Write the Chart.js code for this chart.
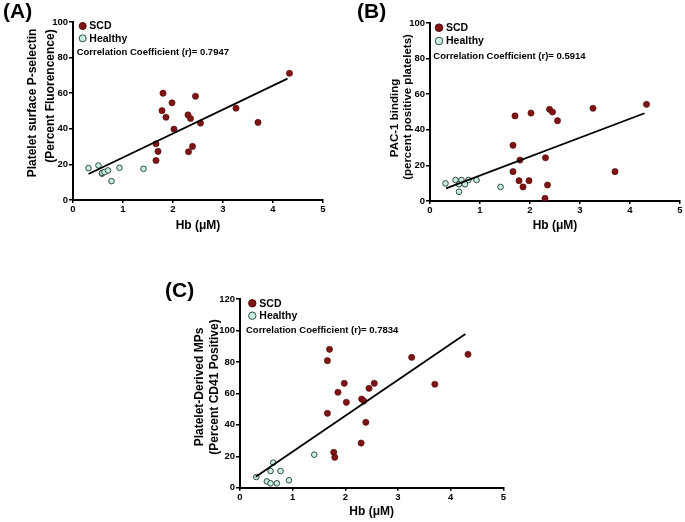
<!DOCTYPE html>
<html>
<head>
<meta charset="utf-8">
<script src="https://cdn.jsdelivr.net/npm/chart.js@4.4.1/dist/chart.umd.min.js"></script>
<style>
  html, body { margin: 0; padding: 0; background: #fff; }
  body { width: 685px; height: 522px; position: relative; overflow: hidden; }
  .panel { position: absolute; }
</style>
</head>
<body>
<div class="panel" id="pA" style="left:0px;top:0px;width:340px;height:240px;"><canvas id="cA"></canvas></div>
<div class="panel" id="pB" style="left:340px;top:0px;width:345px;height:240px;"><canvas id="cB"></canvas></div>
<div class="panel" id="pC" style="left:160px;top:260px;width:360px;height:262px;"><canvas id="cC"></canvas></div>
<script>
// ---------- data ----------
const hbSCD     = [1.66, 1.66, 1.70, 1.78, 1.80, 1.86, 1.98, 2.02, 2.30, 2.31, 2.35, 2.39, 2.45, 2.55, 3.26, 3.70, 4.33];
const hbHealthy = [0.31, 0.51, 0.58, 0.58, 0.63, 0.70, 0.77, 0.93, 1.41];

// (A) Platelet surface P-selectin
const pselSCD     = [31.6, 22.2, 27.3, 50.2, 60.0, 46.5, 54.6, 39.8, 47.8, 27.1, 45.8, 30.1, 58.3, 43.2, 51.6, 43.6, 71.2];
const pselHealthy = [17.9, 19.4, 14.8, 15.2, 15.7, 16.6, 10.6, 18.1, 17.5];
const fitAx = [0.31, 4.29];
const fitAy = [14.6, 68.2];

// (B) PAC-1 binding
const pacSCD     = [31.3, 16.5, 47.8, 11.4, 23.0, 7.9, 11.4, 49.4, 1.5, 24.3, 9.0, 51.5, 50.0, 45.1, 52.1, 16.5, 54.3];
const pacHealthy = [9.9, 11.8, 9.4, 5.2, 11.8, 9.4, 11.8, 11.8, 7.9];
const fitBx = [0.32, 4.29];
const fitBy = [7.1, 49.3];

// (C) Platelet-derived MPs
const pmpSCD     = [80.8, 47.3, 88.0, 22.5, 19.3, 60.7, 66.4, 54.3, 28.4, 56.4, 55.1, 41.6, 63.2, 66.4, 82.9, 65.8, 84.8];
const pmpHealthy = [6.8, 4.0, 10.6, 2.8, 15.9, 2.8, 10.6, 4.7, 21.0];
const fitCx = [0.30, 4.28];
const fitCy = [7.0, 97.7];

const xTicks   = [0, 1, 2, 3, 4, 5];
const yTicksAB = [0, 20, 40, 60, 80, 100];
const yTicksC  = [0, 20, 40, 60, 80, 100, 120];

const seriesNames = ['SCD', 'Healthy'];
const xTitle = 'Hb (\u03BCM)';

// ---------- styling ----------
const FONT = '"Liberation Sans", Arial, Helvetica, sans-serif';
const SCD_FILL = '#7f1414', SCD_EDGE = '#4d0808';
const H_FILL = '#c8eee2', H_EDGE = '#2f4a45';

function pts(xs, ys) { return xs.map((x, i) => ({ x: x, y: ys[i] })); }

const overlayPlugin = {
  id: 'overlay',
  afterDraw(chart, args, o) {
    const ctx = chart.ctx;
    ctx.save();
    ctx.fillStyle = '#000';
    // panel label
    ctx.font = 'bold 21px ' + FONT;
    ctx.textAlign = 'left';
    ctx.textBaseline = 'middle';
    ctx.fillText(o.label, o.labelPos[0], o.labelPos[1]);
    // y-axis title (rotated, multi-line)
    ctx.font = 'bold ' + o.yTitleSize + 'px ' + FONT;
    ctx.textAlign = 'center';
    o.yTitle.forEach((t, i) => {
      ctx.save();
      ctx.translate(o.yTitleX[i], o.yTitleY[i]);
      ctx.rotate(-Math.PI / 2);
      ctx.fillText(t, 0, 0);
      ctx.restore();
    });
    // legend
    const lg = o.legend;
    const fills = [SCD_FILL, H_FILL], edges = [SCD_EDGE, H_EDGE];
    seriesNames.forEach((name, i) => {
      const y = lg.y + i * lg.dy;
      ctx.beginPath();
      ctx.arc(lg.x, y, lg.r, 0, Math.PI * 2);
      ctx.fillStyle = fills[i];
      ctx.fill();
      ctx.lineWidth = 1;
      ctx.strokeStyle = edges[i];
      ctx.stroke();
      ctx.fillStyle = '#000';
      ctx.font = 'bold ' + lg.size + 'px ' + FONT;
      ctx.textAlign = 'left';
      ctx.fillText(name, lg.tx, y + 0.5);
    });
    // correlation text
    ctx.font = 'bold ' + o.corrSize + 'px ' + FONT;
    ctx.fillText(o.corr, o.corrPos[0], o.corrPos[1]);
    ctx.restore();
  }
};

function makeChart(id, cfg) {
  const datasets = [
    { label: 'SCD', data: pts(hbSCD, cfg.scd), backgroundColor: SCD_FILL, borderColor: SCD_EDGE,
      borderWidth: 0.6, pointRadius: 3.1, pointHoverRadius: 3.1, order: 1 },
    { label: 'Healthy', data: pts(hbHealthy, cfg.healthy), backgroundColor: H_FILL, borderColor: H_EDGE,
      borderWidth: 1, pointRadius: 2.8, pointHoverRadius: 2.8, order: 2 },
    { type: 'line', label: 'fit', data: pts(cfg.fitX, cfg.fitY), borderColor: '#000', borderWidth: 1.8,
      pointRadius: 0, showLine: true, fill: false, order: 0 }
  ];
  return new Chart(document.getElementById(id), {
    type: 'scatter',
    data: { datasets: datasets },
    plugins: [overlayPlugin],
    options: {
      responsive: true,
      maintainAspectRatio: false,
      animation: false,
      events: [],
      layout: { padding: cfg.padding },
      plugins: {
        legend: { display: false },
        tooltip: { enabled: false },
        overlay: cfg.overlay
      },
      scales: {
        x: {
          type: 'linear', min: 0, max: 5,
          afterBuildTicks: s => { s.ticks = xTicks.map(v => ({ value: v })); },
          afterFit: s => { s.height = cfg.xHeight; },
          border: { display: true, color: '#000', width: 2 },
          grid: { display: true, drawOnChartArea: false, drawTicks: true, tickLength: 3, color: '#000', lineWidth: 1.5 },
          ticks: { color: '#000', padding: 1, maxRotation: 0, font: { family: FONT, size: 9.5, weight: 'bold' } },
          title: { display: true, text: xTitle, color: '#000', font: { family: FONT, size: 12, weight: 'bold' },
                   padding: { top: 0, bottom: cfg.xTitlePad } }
        },
        y: {
          type: 'linear', min: 0, max: cfg.yMax,
          afterBuildTicks: s => { s.ticks = cfg.yTicks.map(v => ({ value: v })); },
          afterFit: s => { s.width = cfg.yWidth; },
          border: { display: true, color: '#000', width: 2 },
          grid: { display: true, drawOnChartArea: false, drawTicks: true, tickLength: 4, color: '#000', lineWidth: 1.5 },
          ticks: { color: '#000', padding: 1, font: { family: FONT, size: 9.5, weight: 'bold' } },
          title: { display: false }
        }
      }
    }
  });
}

// Panel A (canvas origin 0,0)
makeChart('cA', {
  scd: pselSCD, healthy: pselHealthy, fitX: fitAx, fitY: fitAy,
  yMax: 100, yTicks: yTicksAB, yWidth: 73, xHeight: 40, xTitlePad: 7,
  padding: { left: 0, top: 22, right: 17, bottom: 0 },
  overlay: {
    label: '(A)', labelPos: [3, 12],
    yTitle: ['Platelet surface P-selectin', '(Percent Fluorencence)'], yTitleSize: 12,
    yTitleX: [32.5, 51], yTitleY: [103, 96],
    legend: { x: 82.7, y: 26, dy: 12.3, r: 3.5, tx: 89.3, size: 10.5 },
    corr: 'Correlation Coefficient (r)= 0.7947', corrSize: 9.5, corrPos: [76.7, 52.5]
  }
});

// Panel B (canvas origin 340,0)
makeChart('cB', {
  scd: pacSCD, healthy: pacHealthy, fitX: fitBx, fitY: fitBy,
  yMax: 100, yTicks: yTicksAB, yWidth: 90, xHeight: 39, xTitlePad: 7,
  padding: { left: 0, top: 23, right: 5, bottom: 0 },
  overlay: {
    label: '(B)', labelPos: [17, 12],
    yTitle: ['PAC-1 binding', '(percent positive platelets)'], yTitleSize: 11.5,
    yTitleX: [54.6, 68], yTitleY: [118, 107],
    legend: { x: 99, y: 27.7, dy: 13.3, r: 3.8, tx: 106, size: 10.5 },
    corr: 'Correlation Coefficient (r)= 0.5914', corrSize: 9.5, corrPos: [93.3, 56]
  }
});

// Panel C (canvas origin 160,260)
makeChart('cC', {
  scd: pmpSCD, healthy: pmpHealthy, fitX: fitCx, fitY: fitCy,
  yMax: 120, yTicks: yTicksC, yWidth: 80, xHeight: 34.3, xTitlePad: 3,
  padding: { left: 0, top: 39, right: 16.7, bottom: 0 },
  overlay: {
    label: '(C)', labelPos: [5, 31],
    yTitle: ['Platelet-Derived MPs', '(Percent CD41 Positive)'], yTitleSize: 12,
    yTitleX: [40, 55], yTitleY: [127, 127],
    legend: { x: 92.3, y: 43.3, dy: 12.4, r: 3.7, tx: 99.3, size: 10.5 },
    corr: 'Correlation Coefficient (r)= 0.7834', corrSize: 9.5, corrPos: [86, 70.7]
  }
});
</script>
</body>
</html>
